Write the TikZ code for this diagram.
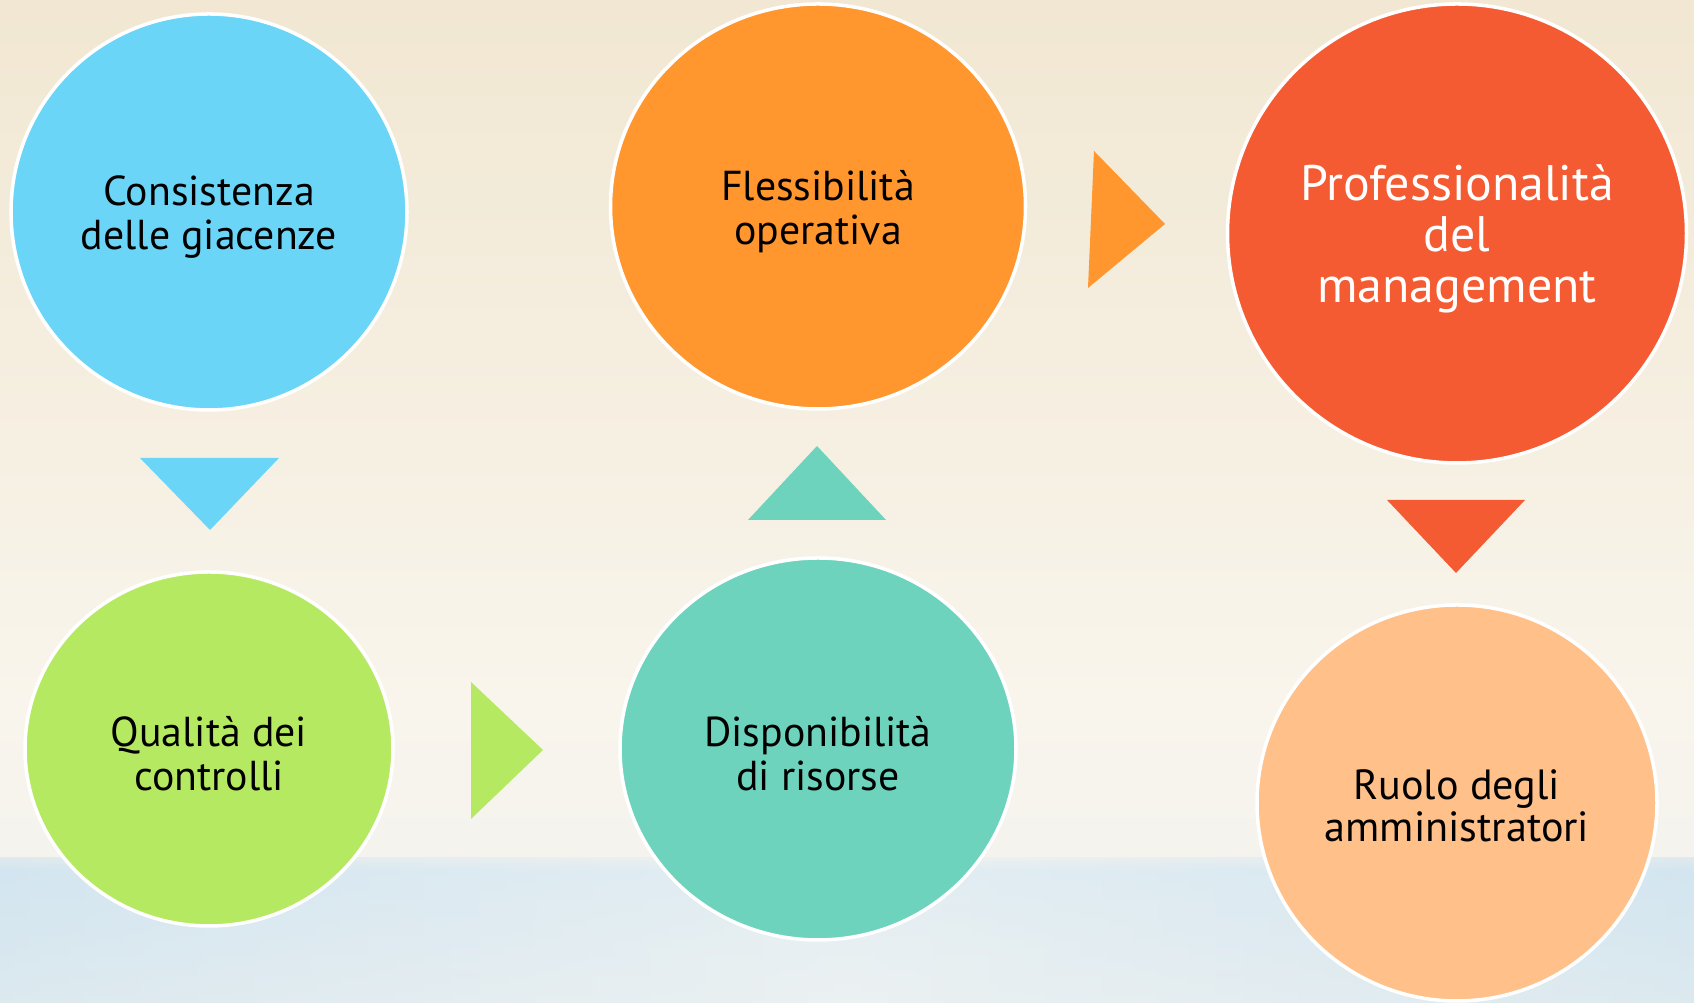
\documentclass[tikz,border=0pt]{standalone}
\usepackage{fontspec}
\setmainfont{PT Sans}
\usepackage{tikz}
\usetikzlibrary{positioning}
\usetikzlibrary{shapes.geometric}
\definecolor{bgtop}{RGB}{241,231,210}
\definecolor{bgmid}{RGB}{249,245,236}
\definecolor{bgedge}{RGB}{244,243,238}
\definecolor{bgband}{RGB}{218,234,244}
\definecolor{bgbot}{RGB}{236,241,242}
\definecolor{bgside}{RGB}{205,226,237}
\definecolor{cblue}{RGB}{106,213,247}
\definecolor{corange}{RGB}{255,150,46}
\definecolor{cred}{RGB}{244,91,50}
\definecolor{cgreen}{RGB}{182,233,98}
\definecolor{cteal}{RGB}{110,211,189}
\definecolor{cpeach}{RGB}{255,192,138}
\pgfdeclareverticalshading{bgshade}{100bp}{color(0bp)=(bgbot); color(25bp)=(bgbot); color(31.6bp)=(bgband); color(32.3bp)=(bgedge); color(40bp)=(bgmid); color(75bp)=(bgtop); color(100bp)=(bgtop)}
\newcommand{\lift}[1]{\rule{0pt}{#1}}
\tikzset{basic/.style={draw=white,line width=1pt,ellipse,align=center,inner sep=0pt,outer sep=0pt,font=\fontsize{11.9}{12.6}\selectfont}}
\tikzset{big/.style={font=\fontsize{14.2}{14.5}\selectfont,text=white}}
\tikzset{small/.style={font=\fontsize{12}{12}\selectfont}}

\begin{document}
\begin{tikzpicture}
    \shade[shading=bgshade] (0,0) rectangle (16.94,10.03);
    \shade[left color=bgside,right color=bgside,middle color=bgbot,opacity=0.5] (0,0) rectangle (16.94,1.45);
    \useasboundingbox (0,0) rectangle (16.94,10.03);
        \node[basic,fill=cblue,minimum width=3.96cm,minimum height=3.96cm] at (2.09,7.91) (cons) {\lift{11.3pt}Consistenza\\delle giacenze};
        \node[basic,fill=cgreen,minimum width=3.68cm,minimum height=3.54cm,below=1.62cm of cons] (qual) {\lift{11.3pt}Qualità dei\\controlli};
        \node[basic,fill=cteal,minimum width=3.96cm,minimum height=3.82cm,right=2.27cm of qual] (disp) {\lift{11.3pt}Disponibilità\\di risorse};
        \node[basic,fill=corange,minimum width=4.15cm,minimum height=4.05cm,above=1.49cm of disp] (flex) {\lift{11.3pt}Flessibilità\\operativa};
        \node[basic,big,fill=cred,minimum width=4.59cm,minimum height=4.59cm,right=2.02cm of flex,yshift=-0.27cm] (prof) {\lift{13.4pt}Professionalità\\del\\management};
        \node[basic,small,fill=cpeach,minimum width=4.0cm,minimum height=3.96cm,below=1.42cm of prof] (ruolo) {\lift{10pt}Ruolo degli\\amministratori};
        % arrows between the stages
        \fill[cblue] (1.40,5.45) -- (2.79,5.45) -- (2.10,4.73) -- cycle;
        \fill[cgreen] (4.71,3.21) -- (5.43,2.53) -- (4.71,1.84) -- cycle;
        \fill[cteal] (7.48,4.83) -- (8.86,4.83) -- (8.17,5.57) -- cycle;
        \fill[corange] (10.94,8.52) -- (11.65,7.79) -- (10.88,7.15) -- cycle;
        \fill[cred] (13.87,5.03) -- (15.25,5.03) -- (14.56,4.30) -- cycle;
\end{tikzpicture}
\end{document}
